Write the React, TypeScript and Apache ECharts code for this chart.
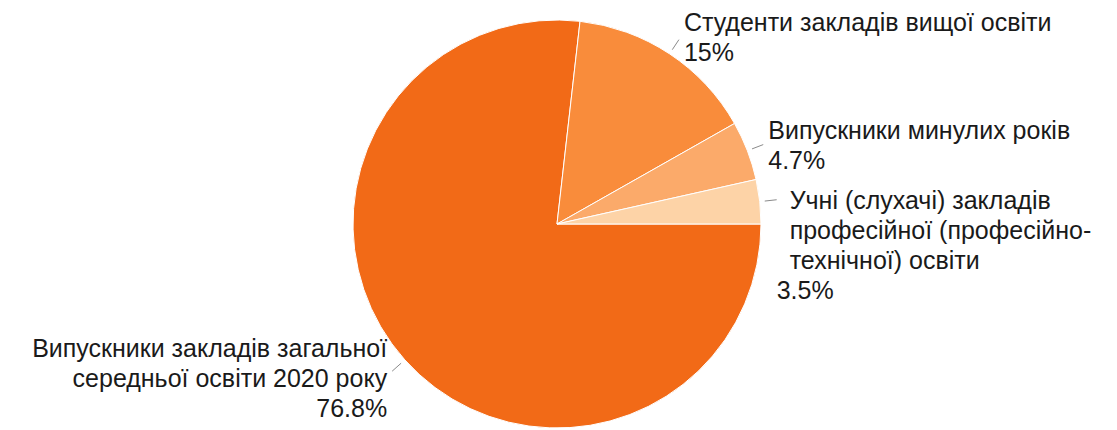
import React, { useEffect, useRef } from "react";
import * as echarts from "echarts";

const categories = [
  "Випускники закладів загальної\nсередньої освіти 2020 року",
  "Студенти закладів вищої освіти",
  "Випускники минулих років",
  "Учні (слухачі) закладів\nпрофесійної (професійно-\nтехнічної) освіти",
];
const shares = [76.8, 15, 4.7, 3.5];
const colors = ["#F26A17", "#F98C3B", "#FBAA6A", "#FDD3A7"];

const FONT = "'Liberation Sans', Arial, Helvetica, sans-serif";
const FS = 25;

export default function App() {
  const ref = useRef<HTMLDivElement>(null);
  useEffect(() => {
    if (!ref.current) return;
    const chart = echarts.init(ref.current, undefined, { renderer: "svg" });
    const OFF = 100;
    const center = [557 + OFF, 224];
    const labelPads = [
      [14, 0, 0, 0],
      [0, 0, 6, 0],
      [0, 0, 0, 0],
      [90, 0, 0, 0],
    ];
    const pieData = shares.map((v, i) => ({
      value: v,
      name: categories[i],
      itemStyle: { color: colors[i] },
    }));
    const labelData = shares.map((v, i) => ({
      value: v,
      name: categories[i],
      label: {
        padding: labelPads[i],
        distanceToLabelLine: i === 3 ? 0 : 5,
      },
      labelLine: { length: 12, length2: 0 },
    }));
    const txt = { fontFamily: FONT, fontSize: FS, lineHeight: 30, color: "#1a1a1a" };
    chart.setOption({
      animation: false,
      backgroundColor: "#ffffff",
      series: [
        {
          type: "pie",
          left: -OFF,
          right: -OFF,
          top: 0,
          bottom: 0,
          center,
          radius: [0, 204],
          startAngle: 0,
          clockwise: true,
          silent: true,
          avoidLabelOverlap: false,
          label: { show: false },
          labelLine: { show: false },
          itemStyle: { borderColor: "#ffffff", borderWidth: 1 },
          emphasis: { disabled: true },
          data: pieData,
        },
        {
          type: "pie",
          left: -OFF,
          right: -OFF,
          top: 0,
          bottom: 0,
          center,
          radius: [0, 209],
          startAngle: 0,
          clockwise: true,
          silent: true,
          avoidLabelOverlap: false,
          labelLayout: { hideOverlap: false, moveOverlap: null },
          itemStyle: { color: "rgba(0,0,0,0)", borderWidth: 0 },
          emphasis: { disabled: true },
          label: {
            show: true,
            position: "outside",
            alignTo: "none",
            ...txt,
            formatter: (p: any) => {
              const tok = p.dataIndex === 3 ? "m" : "n";
              const lines = String(p.name)
                .split("\n")
                .map((l: string) => `{${tok}|${l}}`);
              return lines.join("\n") + `\n{p|${p.value}%}`;
            },
            rich: {
              n: { ...txt },
              m: { ...txt, padding: [0, 0, 0, 13] },
              p: { ...txt },
            },
          },
          labelLine: {
            show: true,
            length: 12,
            length2: 0,
            lineStyle: { color: "#8a8a8a", width: 1 },
          },
          data: labelData,
        },
      ],
    });
    return () => chart.dispose();
  }, []);
  return (
    <div
      ref={ref}
      style={{ position: "absolute", left: 0, top: 0, width: 1117, height: 430 }}
    />
  );
}
